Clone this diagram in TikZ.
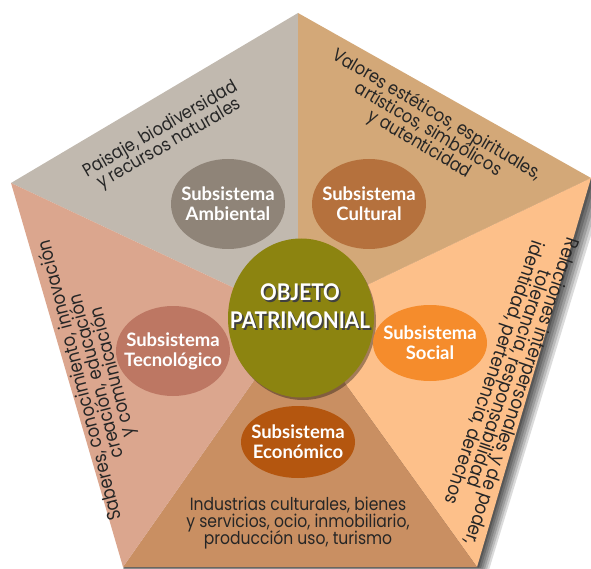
\documentclass[tikz,border=0pt]{standalone}
\usepackage{fontspec}
\usetikzlibrary{shapes.geometric}
\setmainfont{Poppins}[FakeStretch=0.88]
\newfontfamily\headfont{Lato}
\newfontfamily\objfont{Lato}[FakeStretch=0.9]
\definecolor{tlgray}{HTML}{C1B9AF}
\definecolor{trtan}{HTML}{D3A878}
\definecolor{rorange}{HTML}{FDC08A}
\definecolor{bbrown}{HTML}{C98F62}
\definecolor{lpink}{HTML}{DBA68E}
\definecolor{objcol}{HTML}{8C8410}
\definecolor{eamb}{HTML}{8F8478}
\definecolor{ecul}{HTML}{B5713D}
\definecolor{esoc}{HTML}{F58C2C}
\definecolor{eeco}{HTML}{B4560F}
\definecolor{etec}{HTML}{BD7763}
\lineskiplimit=-30pt
\begin{document}
\begin{tikzpicture}[x=1pt,y=-1pt,
  wedge/.style={draw=none},
  sub/.style={ellipse,minimum width=114pt,minimum height=90pt,inner sep=0pt},
  subtxt/.style={text=white,font=\headfont\bfseries\fontsize{18.5}{20}\selectfont,align=center,inner sep=0pt},
  objtxt/.style={font=\objfont\bfseries\fontsize{23}{28}\selectfont,align=center,inner sep=0pt},
  desc/.style={text=black!85,align=center,font=\fontsize{18.2}{17}\selectfont,inner sep=0pt},
]
\useasboundingbox (0,0) rectangle (591,569);
\coordinate (c) at (298,318);
\coordinate (t) at (298,13);
\coordinate (r) at (591,178);
\coordinate (br) at (477,567);
\coordinate (bl) at (123,567);
\coordinate (l) at (11,183);
% soft shadow
\foreach \o/\a in {12/.14,10/.14,8/.16,6/.16,4/.18,2/.20}{
  \fill[black,opacity=\a] (r) -- ([xshift=\o pt,yshift=-1.5*\o pt]r) -- ([xshift=\o pt,yshift=-.25*\o pt]br) -- ([yshift=-.25*\o pt]bl) -- (c) -- cycle;
}
\fill[wedge,fill=tlgray] (l) -- (t) -- (c) -- cycle;
\fill[wedge,fill=trtan] (t) -- (r) -- (c) -- cycle;
\fill[wedge,fill=rorange] (r) -- (br) -- (c) -- cycle;
\fill[wedge,fill=bbrown] (br) -- (bl) -- (c) -- cycle;
\fill[wedge,fill=lpink] (bl) -- (l) -- (c) -- cycle;
% center
\fill[black,opacity=.35] (303,321) ellipse [x radius=73,y radius=79];
\node[ellipse,minimum width=146pt,minimum height=159pt,inner sep=0pt,fill=objcol] (obj) at (301,318) {};
\node[objtxt,text=black!75] (objs) at (301.8,307.8) {OBJETO\\PATRIMONIAL};
\node[objtxt,text=white] (objt) at (300,306) {OBJETO\\PATRIMONIAL};
% ellipses
\node[sub,fill=eamb] (a) at (228,204) {};
\node[subtxt] (at) at (a) {Subsistema\\Ambiental};
\node[sub,fill=ecul] (b) at (369,204) {};
\node[subtxt] (bt) at (b) {Subsistema\\Cultural};
\node[sub,fill=esoc,minimum height=76pt] (d) at (430,343) {};
\node[subtxt] (dt) at (d) {Subsistema\\Social};
\node[sub,fill=eeco,minimum height=72pt] (e) at (298,442) {};
\node[subtxt] (et) at (e) {Subsistema\\Económico};
\node[sub,fill=etec] (f) at (173,351) {};
\node[subtxt] (ft) at (f) {Subsistema\\Tecnológico};
% descriptions
\node[desc,rotate=30] (da) at (165,137) {Paisaje, biodiversidad\\y recursos naturales};
\node[desc,rotate=-30.5] (db) at (428,130) {Valores estéticos, espirituales,\\artísticos, simbólicos\\y autenticidad};
\node[desc,rotate=-108.6,align=left,font=\fontsize{19}{16}\selectfont] (dc) at (505,386) {Relaciones interpersonales y de poder,\\\hspace*{39pt}tolerancia, responsabilidad\\\hspace*{14pt}identidad, pertenencia, derechos};
\node[desc,font=\fontsize{17.7}{16.8}\selectfont] (dd) at (298,523) {Industrias culturales, bienes\\y servicios, ocio, inmobiliario,\\producción uso, turismo};
\node[desc,rotate=104.5,font=\fontsize{18.8}{16.8}\selectfont] (de) at (97,376) {Saberes, conocimiento, innovación\\creación, educación\\y comunicación};
\end{tikzpicture}
\end{document}
